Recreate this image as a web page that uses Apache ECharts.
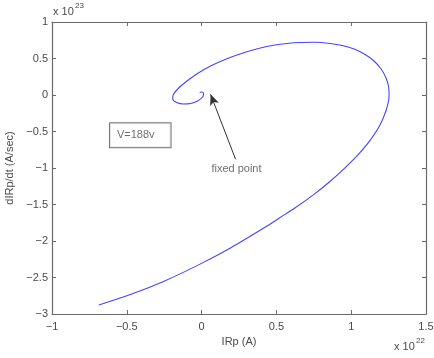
<!DOCTYPE html>
<html><head><meta charset="utf-8">
<script src="https://cdn.jsdelivr.net/npm/echarts@6/dist/echarts.min.js"></script>
<style>html,body{margin:0;padding:0;background:#fff}#c{width:434px;height:358px}</style>
</head><body><div id="c"></div>
<script>
// trajectory in units of 1e22 (x) and 1e23 (y)
const irp = [-0.687,-0.467,-0.247,-0.027,0.193,0.413,0.52,0.633,0.747,0.86,0.953,1.04,1.12,1.187,1.233,1.253,1.25,1.233,1.2,1.153,1.093,1.02,0.94,0.86,0.76,0.66,0.573,0.48,0.393,0.287,0.173,0.06,-0.027,-0.093,-0.153,-0.19,-0.193,-0.167,-0.12,-0.073,-0.027,0.007,0.013,0,-0.013];
const dirp = [-2.877,-2.727,-2.547,-2.334,-2.095,-1.826,-1.685,-1.535,-1.368,-1.181,-1.008,-0.830,-0.638,-0.433,-0.212,-0.014,0.110,0.233,0.356,0.466,0.555,0.630,0.678,0.706,0.722,0.719,0.706,0.681,0.644,0.582,0.500,0.397,0.295,0.199,0.096,0,-0.055,-0.103,-0.123,-0.116,-0.082,-0.027,0.021,0.041,0.034];
const xTicks = [-1,-0.5,0,0.5,1,1.5];
const yTicks = [-3,-2.5,-2,-1.5,-1,-0.5,0,0.5,1];
const xTitle = 'IRp (A)';
const yTitle = 'dIRp/dt (A/sec)';
const note = 'V=188v';
const notePos = [-0.41, -0.55];
const fixedLabel = 'fixed point';
const fixedLabelPos = [0.233, -1.02];
const arrowFrom = [0.227, -0.88];
const arrowTo = [0.06, 0.01];

const font = 'Liberation Sans, Arial, sans-serif';
const txt = '#4a4a4a';
const axc = '#6a6a6a';
const fmt = v => String(v).replace('-', '\u2212');
const chart = echarts.init(document.getElementById('c'), null, {renderer:'canvas'});
const grid = {left:52, right:8, top:22, bottom:44, containLabel:false, outerBoundsMode:'none'};
function xa(pos, show){
  return {type:'value', position:pos, min:xTicks[0], max:xTicks[xTicks.length-1], interval:0.5,
    axisLine:{show:true, onZero:false, lineStyle:{color:axc, width:1.2}},
    axisTick:{show:true, inside:true, length:4, lineStyle:{color:axc}},
    axisLabel:{show:show, color:txt, fontFamily:font, fontSize:11, margin:7, formatter:fmt},
    splitLine:{show:false},
    name: show ? xTitle : '', nameLocation:'middle', nameGap:21,
    nameTextStyle:{color:txt, fontFamily:font, fontSize:11}};
}
function ya(pos, show){
  return {type:'value', position:pos, min:yTicks[0], max:yTicks[yTicks.length-1], interval:0.5,
    axisLine:{show:true, onZero:false, lineStyle:{color:axc, width:1.2}},
    axisTick:{show:true, inside:true, length:4, lineStyle:{color:axc}},
    axisLabel:{show:show, color:txt, fontFamily:font, fontSize:11, margin:4, formatter:fmt},
    splitLine:{show:false},
    name: show ? yTitle : '', nameLocation:'middle', nameGap:32,
    nameTextStyle:{color:txt, fontFamily:font, fontSize:11}};
}
chart.setOption({
  animation:false,
  backgroundColor:'#fff',
  grid: grid,
  xAxis:[xa('bottom', true), xa('top', false)],
  yAxis:[ya('left', true), ya('right', false)],
  graphic:[
    {type:'text', left:53, top:6, style:{text:'x 10', fill:txt, font:'11px '+font}},
    {type:'text', left:75, top:2, style:{text:'23', fill:txt, font:'8px '+font}},
    {type:'text', left:394, top:341, style:{text:'x 10', fill:txt, font:'11px '+font}},
    {type:'text', left:416, top:337, style:{text:'22', fill:txt, font:'8px '+font}}
  ],
  series:[
    {type:'line', data: irp.map((x,i)=>[x, dirp[i]]), showSymbol:false, smooth:0.3,
     lineStyle:{color:'#4545ff', width:1.1}, z:3,
     markLine:{silent:true, symbol:['none','arrow'], symbolSize:[7,11],
       lineStyle:{color:'#333', width:1, type:'solid'}, label:{show:false},
       data:[[{coord:arrowFrom},{coord:arrowTo}]]}},
    {type:'scatter', data:[notePos], symbolSize:0,
     label:{show:true, position:'inside', formatter:note, color:txt, fontFamily:font, fontSize:11,
       borderColor:'#555', borderWidth:1, padding:[7,16,6,7], backgroundColor:'#fff'}},
    {type:'scatter', data:[fixedLabelPos], symbolSize:0,
     label:{show:true, position:'inside', formatter:fixedLabel, color:txt, fontFamily:font, fontSize:11}}
  ]
});
</script></body></html>
